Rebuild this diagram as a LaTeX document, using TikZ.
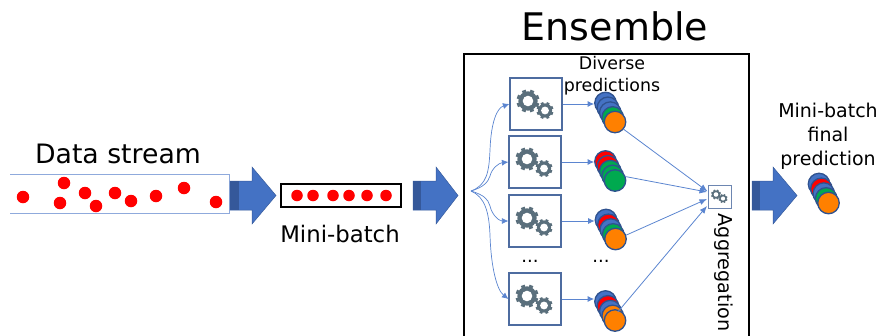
\documentclass[tikz,border=0pt]{standalone}
\usepackage{fontspec}
\setmainfont{DejaVu Sans}
\usetikzlibrary{arrows.meta}
\definecolor{bigblue}{HTML}{4472C4}
\definecolor{darkblue}{HTML}{35589A}
\definecolor{edgeblue}{HTML}{2F528F}
\definecolor{streamline}{HTML}{8FAADC}
\definecolor{conn}{HTML}{5B85D0}
\definecolor{gearcol}{HTML}{5A6F7C}
\definecolor{tokred}{HTML}{FF0000}
\definecolor{tokgreen}{HTML}{00A94F}
\definecolor{tokorange}{HTML}{FF8000}
\tikzset{
  x=1pt,y=-1pt,
  lbl/.style={inner sep=0pt,align=center,text=black},
  model/.style={draw=edgeblue!85!white,line width=1.2pt,fill=white,minimum width=52pt,minimum height=52pt,inner sep=0pt},
  flow/.style={draw=conn,line width=0.8pt,-{Latex[length=6.5pt,width=6pt]}},
  fan/.style={draw=conn,line width=0.7pt,-{Latex[length=6.5pt,width=6pt]}},
  merge/.style={draw=conn,line width=0.8pt,-{Latex[length=7.5pt,width=6pt]}},
  token/.style={circle,draw=edgeblue,line width=1.3pt,minimum size=21.5pt,inner sep=0pt},
  reddot/.style={circle,fill=tokred,minimum size=12.5pt,inner sep=0pt},
}
% gear: x y outer-radius
\newcommand{\mygear}[3]{%
  \foreach \a in {0,45,...,315}{
    \fill[gearcol,rotate around={\a+22:(#1,#2)}] (#1-0.17*#3,#2) rectangle (#1+0.17*#3,#2-#3);
  }
  \fill[gearcol] (#1,#2) circle[radius=0.84*#3];
  \fill[white] (#1,#2) circle[radius=0.46*#3];
}
\begin{document}
\begin{tikzpicture}
\useasboundingbox (0,0) rectangle (880,335);
% stream
\draw[streamline,line width=0.9pt] (10,174) -- (229,174) -- (229,213) -- (10,213);
\foreach \px/\py [count=\i] in {23/197,64/183,60/203,85/193,96/206,115/193,131/201,156/196,184/188,216/202}
  \node[reddot] (sd\i) at (\px,\py) {};
\node[lbl,font=\fontsize{26.7}{30}\selectfont] (dstitle) at (118,154) {Data stream};
% big arrows
\foreach \n/\xa/\xd/\xh/\xt in {a/230/239/252/276,b/413/421/436/458,c/752/760/773/797}{
  \fill[bigblue,draw=bigblue!80!black,line width=0.5pt] (\xa,181) -- (\xh,181) -- (\xh,167) -- (\xt,195.5) -- (\xh,224) -- (\xh,210) -- (\xa,210) -- cycle;
  \fill[darkblue] (\xa,181) rectangle (\xd,210);
}
% mini-batch
\node[draw=black,line width=2pt,minimum width=120pt,minimum height=23pt,inner sep=0pt] (mb) at (341,195.5) {};
\foreach \px [count=\i] in {297,313,333,349,367,386}
  \node[reddot,minimum size=11.5pt] (md\i) at (\px,195.5) {};
\node[lbl,font=\fontsize{22.8}{26}\selectfont] (mbtitle) at (340,234) {Mini-batch};
% ensemble
\draw[black,line width=2.5pt] (464,336) -- (464,54) -- (749,54) -- (749,336);
\node[lbl,font=\fontsize{38}{44}\selectfont] (enstitle) at (615,26) {Ensemble};
\node[lbl,font=\fontsize{17.4}{21.5}\selectfont] (divtitle) at (612,75.5) {Diverse\\predictions};
% models
\node[model] (m1) at (536,104) {};
\node[model] (m2) at (535,162) {};
\node[model] (m3) at (535,221) {};
\node[model] (m4) at (535,299) {};
\foreach \cx/\cy in {536/104,535/162,535/221,535/299}{
  \mygear{\cx-8}{\cy-3}{11.5}
  \mygear{\cx+9}{\cy+6.5}{8.5}
}
\node[lbl,font=\fontsize{18}{20}\selectfont] (dots1) at (530,261) {...};
\node[lbl,font=\fontsize{18}{20}\selectfont] (dots2) at (601,261) {...};
% stacks
\foreach \n/\sx/\sy/\ca/\cb/\cc/\cd/\ce in {
  s1/605.5/103/bigblue/bigblue/bigblue/tokgreen/tokorange,
  s2/605.5/161.5/tokred/tokred/tokgreen/tokgreen/tokgreen,
  s3/606/220/bigblue/tokred/bigblue/tokgreen/tokorange,
  s4/605.5/301.5/bigblue/tokred/bigblue/tokorange/tokorange,
  s5/819/184/bigblue/tokred/bigblue/tokgreen/tokorange}{
  \node[token,fill=\ca] (\n a) at (\sx,\sy) {};
  \node[token,fill=\cb] (\n b) at (\sx+2.4,\sy+4.8) {};
  \node[token,fill=\cc] (\n c) at (\sx+4.8,\sy+9.6) {};
  \node[token,fill=\cd] (\n d) at (\sx+7.2,\sy+14.4) {};
  \node[token,fill=\ce] (\n e) at (\sx+9.5,\sy+19) {};
}
% aggregation
\node[draw=edgeblue!70!white,line width=1pt,minimum size=23pt,inner sep=0pt,fill=white] (agg) at (719.5,196.5) {};
\mygear{716}{194.5}{5}
\mygear{723}{198.5}{4.5}
\node[lbl,rotate=-90,font=\fontsize{19.2}{22}\selectfont] (aggt) at (724,272.5) {Aggregation};
% final title
\node[lbl,font=\fontsize{19}{24}\selectfont] (ftitle) at (828,136) {Mini-batch\\final\\prediction};
% fan
\coordinate (fanroot) at (471,191);
\draw[fan] (fanroot) .. controls (487,185) and (489,172) .. (490,150) .. controls (491,122) and (497,108) .. (m1.west);
\draw[fan] (fanroot) .. controls (484,187) and (488,182) .. (490,176) .. controls (492,168) and (499,163) .. (m2.west);
\draw[fan] (fanroot) .. controls (484,195) and (488,199) .. (490,206) .. controls (492,215) and (499,221) .. (m3.west);
\draw[fan] (fanroot) .. controls (485,197) and (489,212) .. (490,235) .. controls (491,268) and (497,290) .. (m4.west);
% model to stack
\draw[flow] (m1.east) -- (s1a.west |- m1.east);
\draw[flow] (m2.east) -- (s2a.west |- m2.east);
\draw[flow] (m3.east) -- (s3a.west |- m3.east);
\draw[flow] (m4.east) -- (s4a.west |- m4.east);
% stack to aggregation
\draw[merge] (s1e.-40) -- ([yshift=-1pt]agg.153);
\draw[merge] (s2e.20) -- ([xshift=-0.5pt]agg.west |- 0,192);
\draw[merge] (s3e.20) -- ([xshift=-0.5pt]agg.west |- 0,199);
\draw[merge] (s4b.-30) -- ([xshift=-0.5pt]agg.west |- 0,206);
\end{tikzpicture}
\end{document}
